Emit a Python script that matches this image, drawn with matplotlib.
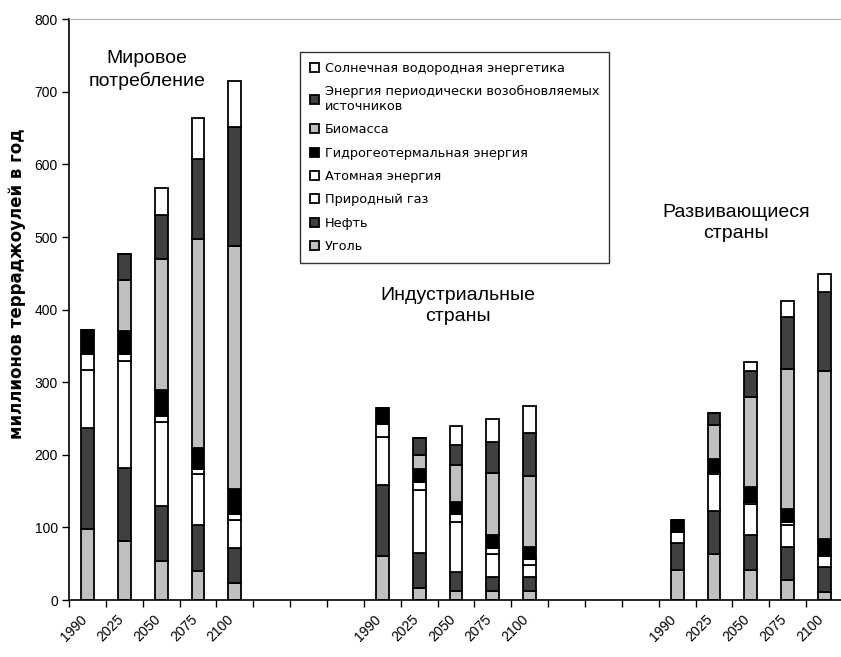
import numpy as np
import matplotlib
matplotlib.use("Agg")
from matplotlib import pyplot as plt
import matplotlib.transforms as mtransforms

# Годы и группы (Мир, индустриальные, развивающиеся)
years = ["1990", "2025", "2050", "2075", "2100"]
group_labels = ["Мировое\nпотребление", "Индустриальные\nстраны", "Развивающиеся\nстраны"]

# Значения, млн ТДж в год: 5 лет мир, 5 лет индустр., 5 лет развив.
coal = [98, 81, 54, 40, 23,  60, 16, 12, 12, 12,  41, 63, 41, 28, 11]
oil = [139, 101, 75, 64, 49,  98, 49, 26, 19, 19,  38, 59, 49, 45, 35]
gas = [80, 147, 116, 69, 38,  66, 87, 70, 33, 17,  15, 52, 42, 31, 14]
nuclear = [22, 10, 8, 8, 8,  19, 10, 10, 7, 9,  0, 3, 3, 3, 2]
hydro = [33, 32, 36, 29, 35,  22, 18, 17, 19, 16,  16, 17, 21, 19, 22]
biomass = [0, 70, 181, 287, 334,  0, 20, 51, 85, 98,  0, 47, 123, 192, 231]
renewable = [0, 36, 60, 110, 164,  0, 23, 27, 43, 59,  0, 17, 36, 72, 110]
solar = [0, 0, 38, 57, 64,  0, 0, 27, 31, 37,  0, 0, 13, 22, 24]

series = [
    ("Уголь", coal, "#c0c0c0"),
    ("Нефть", oil, "#404040"),
    ("Природный газ", gas, "white"),
    ("Атомная энергия", nuclear, "white"),
    ("Гидрогеотермальная энергия", hydro, "black"),
    ("Биомасса", biomass, "#c0c0c0"),
    ("Энергия периодически возобновляемых\nисточников", renewable, "#404040"),
    ("Солнечная водородная энергетика", solar, "white"),
]

group_starts = [0, 8, 16]
x = np.array([g + i for g in group_starts for i in range(len(years))])

fig = plt.figure(figsize=(8.41, 6.57), dpi=100)
ax = fig.add_axes([69 / 841, 1 - 600 / 657, 774 / 841, (600 - 19.3) / 657])

bottom = np.zeros(len(x))
handles = []
for name, vals, color in series:
    vals = np.array(vals, dtype=float)
    b = ax.bar(x, vals, width=0.35, bottom=bottom, color=color,
               edgecolor="black", linewidth=1.3, label=name)
    handles.append(b)
    bottom += vals

ax.set_xlim(-0.5, 20.5)
ax.set_ylim(0, 800)
ax.set_yticks(range(0, 801, 100))
ax.tick_params(axis="y", direction="out", length=5, width=1, labelsize=10, pad=3)

ax.set_xticks(x)
ax.set_xticklabels(years * 3, rotation=45, ha="right", va="top",
                   rotation_mode="anchor", fontsize=10)
ax.tick_params(axis="x", which="major", length=0, pad=9)
ax.set_xticks(np.arange(-0.5, 21, 1), minor=True)
ax.tick_params(axis="x", which="minor", direction="out", length=5, width=1)
offset = mtransforms.ScaledTranslation(-8 / 100, 0, fig.dpi_scale_trans)
for lab in ax.get_xticklabels():
    lab.set_transform(lab.get_transform() + offset)

for lab in ax.get_yticklabels() + ax.get_xticklabels():
    lab.set_fontfamily("Liberation Sans")

ax.spines["right"].set_visible(False)
ax.spines["top"].set_color("#b0b0b0")
ax.spines["top"].set_linewidth(0.8)
ax.spines["left"].set_linewidth(1.2)
ax.spines["bottom"].set_linewidth(1.2)

ax.set_ylabel("миллионов терраджоулей в год", fontsize=12, fontweight="bold",
              family="DejaVu Sans")
ax.yaxis.set_label_coords(-0.056, 0.545)

# подписи групп
label_pos = [(1.62, 730), (10.06, 405), (17.6, 519)]
for (tx, ty), txt in zip(label_pos, group_labels):
    ax.text(tx, ty, txt, ha="center", va="center", fontsize=14,
            family="Liberation Sans", linespacing=1.3)

leg = ax.legend(handles[::-1], [s[0] for s in series][::-1],
                loc="upper left", bbox_to_anchor=((300 - 69) / 774, (600 - 52) / 580.7),
                fontsize=9.3, frameon=True, fancybox=False, borderpad=0.75,
                handlelength=0.7, handleheight=0.7, handletextpad=0.5,
                labelspacing=0.8, borderaxespad=0)
leg.get_frame().set_edgecolor("black")
leg.get_frame().set_linewidth(1.0)

fig.savefig("out.png", dpi=100)
